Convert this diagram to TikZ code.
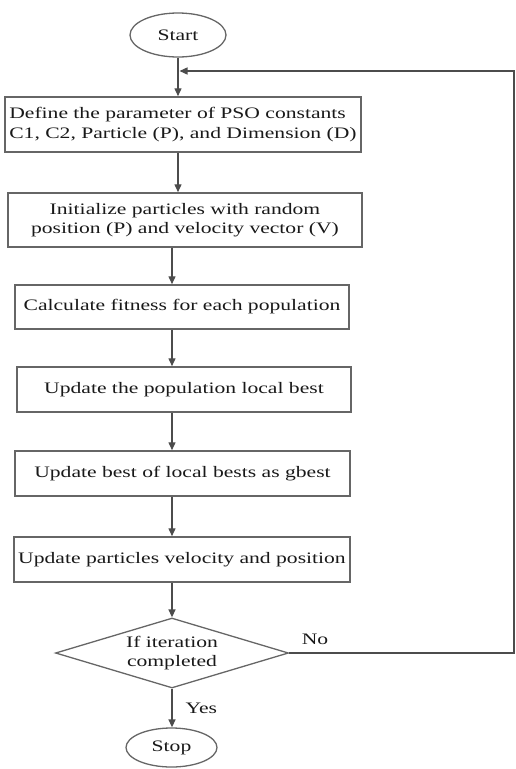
\documentclass[tikz,border=0pt]{standalone}
\usepackage{fontspec}
\setmainfont{Liberation Serif}[FakeStretch=1.35]
\usetikzlibrary{arrows.meta,positioning,shapes.geometric}

\begin{document}
\begin{tikzpicture}[x=1pt,y=-1pt,>={Triangle[length=8pt,width=7pt]},
  font=\fontsize{16}{19.5}\selectfont,
  term/.style={ellipse,draw=black!60,line width=1.3pt,inner sep=0pt,text=black!90},
  stepbox/.style={rectangle,draw=black!60,line width=1.5pt,inner sep=2pt,align=center,text=black!90},
  test/.style={diamond,draw=black!60,line width=1.3pt,aspect=3.3,inner sep=0pt,align=center,text=black!90,
    minimum width=233pt,minimum height=70pt},
  flow/.style={draw=black!70,line width=1.4pt},
  lab/.style={inner sep=1pt,text=black!90}]
\useasboundingbox (0,0) rectangle (515,769);
\node[term,minimum width=96pt,minimum height=44pt] (start) at (178,35) {Start};
\node[stepbox,align=left,minimum width=356pt,minimum height=55pt] (define) at (183,124.5)
  {Define the parameter of PSO constants\\C1, C2, Particle (P), and Dimension (D)};
\node[stepbox,minimum width=354pt,minimum height=54pt] (init) at (185,220)
  {Initialize particles with random\\position (P) and velocity vector (V)};
\node[stepbox,minimum width=334pt,minimum height=44pt] (fitness) at (182,307) {Calculate fitness for each population};
\node[stepbox,minimum width=334pt,minimum height=45pt] (lbest) at (184,389.5) {Update the population local best};
\node[stepbox,minimum width=335pt,minimum height=45pt] (gbest) at (182.5,473.5) {Update best of local bests as gbest};
\node[stepbox,minimum width=336pt,minimum height=45pt] (move) at (182,559.5) {Update particles velocity and position};
\node[test] (done) at (172,653) {If iteration\\completed};
\node[term,minimum width=91pt,minimum height=39pt] (stop) at (171.5,747.5) {Stop};
\coordinate (join) at (178,71);
\coordinate (back) at (514,71);
% main column
\draw[flow,->] (start.south) -- (start.south |- define.north);
\draw[flow,->] (define.south -| start) -- (init.north -| start);
\foreach \a/\b in {init/fitness,fitness/lbest,lbest/gbest,gbest/move}
  \draw[flow,->] (\a.south -| done) -- (\b.north -| done);
\draw[flow,->] (move.south -| done) -- (done.north);
\draw[flow,->] (done.south) -- node[lab,right=12pt]{Yes} (done.south |- stop.north);
% loop back
\draw[flow,->,shorten >=1.5pt] (done.east) -- node[lab,pos=0,above right=7pt and 11pt]{No} (done.east -| back)
  -- (back) -- (join);
\end{tikzpicture}
\end{document}
